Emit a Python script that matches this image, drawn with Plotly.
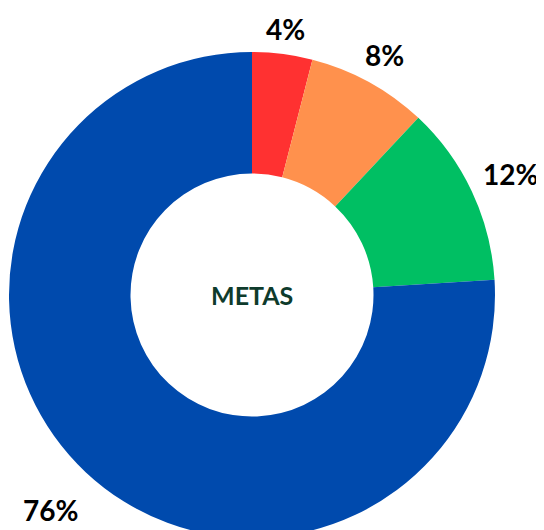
import math
import plotly.graph_objects as go

categories = ["A", "B", "C", "D"]
values = [4, 8, 12, 76]
labels_txt = ["4%", "8%", "12%", "76%"]
colors = ["#FF3131", "#FF914D", "#00BF63", "#004AAD"]
center_text = "METAS"

W, H = 544, 530
# page has an 8px body margin, so figure coords are page coords minus 8
cx, cy, R = 244, 287, 243

fig = go.Figure(go.Pie(
    labels=categories, values=values, sort=False, direction="clockwise",
    rotation=0, hole=0.5, textinfo="none", hoverinfo="label+value",
    marker=dict(colors=colors, line=dict(width=0)),
    domain=dict(x=[(cx - R) / W, (cx + R) / W],
                y=[max(0, (H - cy - R) / H), (H - cy + R) / H]),
    showlegend=False,
))

# outside labels placed at slice mid-angles
total = sum(values)
cum = 0
char_w = {"%": 0.85}
annotations = []
for v, t in zip(values, labels_txt):
    mid = (cum + v / 2) / total * 2 * math.pi
    cum += v
    ux, uy = math.sin(mid), -math.cos(mid)
    w = sum(char_w.get(c, 0.58) for c in t) * 28
    h = 22
    d = R + 12 + abs(ux) * w / 2 + abs(uy) * h / 2
    if uy > 0:
        d += 12
    px, py = cx + ux * d, cy + uy * d
    annotations.append(dict(
        x=px / W, y=1 - py / H, xref="paper", yref="paper", text=t,
        showarrow=False, xanchor="center", yanchor="middle",
        font=dict(family="Lato", size=28, color="#000000", weight="bold"),
    ))
annotations.append(dict(
    x=cx / W, y=1 - cy / H, xref="paper", yref="paper", text=center_text,
    showarrow=False, xanchor="center", yanchor="middle",
    font=dict(family="Lato", size=25, color="#0E3B2C", weight="bold"),
))

fig.update_layout(
    width=W, height=H, margin=dict(l=0, r=0, t=0, b=0),
    paper_bgcolor="white", plot_bgcolor="white",
    annotations=annotations,
)
fig.write_html("out.html")
